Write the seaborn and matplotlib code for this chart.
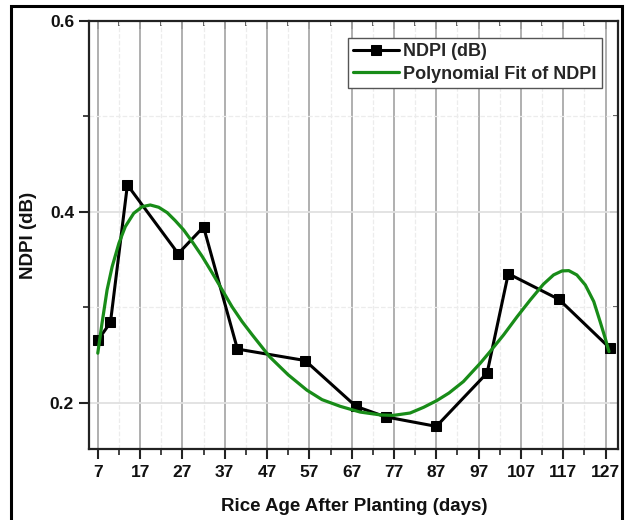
import matplotlib
matplotlib.use("Agg")
import matplotlib.pyplot as plt
import seaborn as sns
from matplotlib.patches import Rectangle
from matplotlib.ticker import FixedLocator

# ---- data ----
days = [7, 10, 14, 26, 32, 40, 56, 68, 75, 87, 99, 104, 116, 128]
ndpi = [0.265, 0.284, 0.428, 0.356, 0.384, 0.256, 0.244, 0.196, 0.185,
        0.175, 0.231, 0.335, 0.308, 0.257]

# polynomial fit curve
fit_days = [7.0, 8.0, 9.2, 10.4, 12.0, 13.5, 15.5, 17.5, 19.4, 21.4, 23.4,
            25.3, 27.3, 29.3, 31.7, 34.0, 36.4, 38.7, 41.1, 43.5, 47.6,
            52.0, 56.4, 60.0, 64.3, 69.0, 73.8, 76.8, 80.8, 84.0, 87.1,
            90.0, 93.4, 97.4, 99.7, 102.9, 106.1, 109.2, 112.3, 114.7,
            116.7, 118.3, 120.2, 122.2, 124.2, 125.7, 126.9, 127.8]
fit_ndpi = [0.2517, 0.283, 0.318, 0.3424, 0.367, 0.3843, 0.3983, 0.4052,
            0.407, 0.4046, 0.399, 0.3906, 0.3808, 0.3686, 0.3529, 0.3361,
            0.318, 0.3005, 0.2848, 0.2709, 0.248, 0.229, 0.213, 0.203,
            0.196, 0.190, 0.187, 0.1865, 0.189, 0.195, 0.202, 0.210, 0.222,
            0.2413, 0.2534, 0.2709, 0.290, 0.3075, 0.324, 0.3337, 0.3379,
            0.3382, 0.3337, 0.3232, 0.3058, 0.2848, 0.2674, 0.2534]

xticks = [7, 17, 27, 37, 47, 57, 67, 77, 87, 97, 107, 117, 127]
xminor = [12, 22, 32, 42, 52, 62, 72, 82, 92, 102, 112, 122]
yticks = [0.2, 0.4, 0.6]
yminor = [0.3, 0.5]

sns.set_theme(style="white")
plt.rcParams['font.family'] = ['Liberation Sans', 'DejaVu Sans']
plt.rcParams['font.weight'] = 'bold'

fig = plt.figure(figsize=(6.25, 5.2), dpi=100)
ax = fig.add_axes([0.1429, 0.136, 0.8464, 0.824])

sns.lineplot(x=days, y=ndpi, ax=ax, color='black', lw=2.2, marker='s',
             markersize=7, markeredgecolor='black', markerfacecolor='black',
             label='NDPI (dB)', zorder=3)
sns.lineplot(x=fit_days, y=fit_ndpi, ax=ax, color='#188c18', lw=2.3,
             label='Polynomial Fit of NDPI', zorder=4,
             solid_joinstyle='round', solid_capstyle='round')

ax.set_xlim(5, 130)
ax.set_ylim(0.151, 0.6)
ax.set_xticks(xticks)
ax.set_xticklabels([str(t) for t in xticks])
ax.xaxis.set_minor_locator(FixedLocator(xminor))
ax.set_yticks(yticks)
ax.set_yticklabels([f"{t:.1f}" for t in yticks])
ax.yaxis.set_minor_locator(FixedLocator(yminor))

ax.tick_params(axis='both', which='major', direction='out', length=7,
               width=1.5, color='#222222', labelsize=12.5, pad=4,
               bottom=True, left=True, labelcolor='#111111')
ax.tick_params(axis='both', which='minor', direction='out', length=4,
               width=1.2, color='#222222', bottom=True, left=True)
for lab in ax.get_xticklabels() + ax.get_yticklabels():
    lab.set_fontweight('bold')

# mirrored inward ticks on top and right
top = ax.secondary_xaxis('top')
top.set_xticks(xticks)
top.xaxis.set_minor_locator(FixedLocator(xminor))
top.tick_params(which='major', direction='in', length=6, width=1.3,
                color='#222222', labeltop=False)
top.tick_params(which='minor', direction='in', length=3.5, width=1.1,
                color='#222222')
top.spines['top'].set_visible(False)
right = ax.secondary_yaxis('right')
right.set_yticks(yticks)
right.yaxis.set_minor_locator(FixedLocator(yminor))
right.tick_params(which='major', direction='in', length=6, width=1.3,
                  color='#222222', labelright=False)
right.tick_params(which='minor', direction='in', length=3.5, width=1.1,
                  color='#222222')
right.spines['right'].set_visible(False)

ax.grid(which='major', axis='x', color='#a9a9a9', lw=1.3, ls='-')
ax.grid(which='major', axis='y', color='#e0e0e0', lw=1.3, ls='-')
ax.grid(which='minor', axis='both', color='#ececec', lw=0.9, ls='--')

for s in ax.spines.values():
    s.set_color('#222222')
    s.set_linewidth(1.6)
    s.set_visible(True)

ax.set_xlabel('Rice Age After Planting (days)', fontsize=13.5,
              fontweight='bold', labelpad=13, color='#111111')
ax.set_ylabel('NDPI (dB)', fontsize=13.5, fontweight='bold', labelpad=9,
              color='#111111')

leg = ax.legend(loc='upper right', bbox_to_anchor=(0.969, 0.960),
                borderaxespad=0, frameon=True, fancybox=False,
                edgecolor='#555555', framealpha=1, fontsize=13,
                handlelength=2.5, borderpad=0.3, labelspacing=0.3,
                handletextpad=0.25)
leg.get_frame().set_linewidth(1.0)
for t in leg.get_texts():
    t.set_fontweight('bold')

fig.patches.append(Rectangle((11 / 625, -0.02), (622 - 11) / 625, 1.009,
                             transform=fig.transFigure, fill=False,
                             ec='black', lw=2.2))

fig.savefig('out.png', dpi=100)
